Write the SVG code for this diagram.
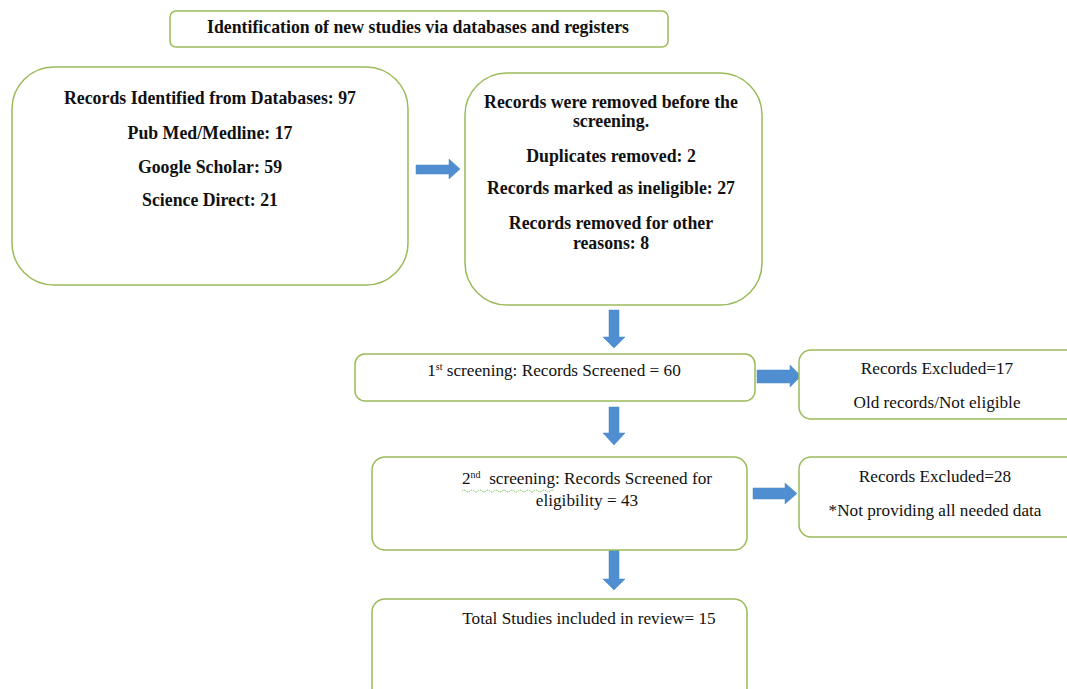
<svg xmlns="http://www.w3.org/2000/svg" width="1067" height="689" viewBox="0 0 1067 689">
<style>
.box{fill:#ffffff;stroke:#9bbb59;stroke-width:1.5}
.arrow{fill:#4f8fd1;stroke:#4a84c0;stroke-width:0.5}
.b{font-family:"Liberation Serif","Times New Roman",serif;font-weight:bold;font-size:17.8px;fill:#111;text-anchor:middle}
.r{font-family:"Liberation Serif","Times New Roman",serif;font-size:17.2px;fill:#111;text-anchor:middle}
.sup{font-size:10px}
</style>
<rect width="1067" height="689" fill="#ffffff"/>
<g id="connectors">
<polygon class="arrow" points="416,165 449,165 449,159 460,169 449,179 449,174 416,174"/>
<polygon class="arrow" points="609,310 619,310 619,337 625,337 614,348 603,337 609,337"/>
<polygon class="arrow" points="757,370 790,370 790,365 801,376 790,387 790,383 757,383"/>
<polygon class="arrow" points="609,407 619,407 619,433 625,433 614,445 603,433 609,433"/>
<polygon class="arrow" points="753,488 785,488 785,483 797,493.5 785,504 785,499 753,499"/>
<polygon class="arrow" points="609,550 619,550 619,579 625,579 614,590 603,579 609,579"/>
</g>
<g id="title">
<rect class="box" x="170" y="11" width="498" height="36" rx="6"/>
<text class="b" x="418" y="33">Identification of new studies via databases and registers</text>
</g>
<g id="identified">
<rect class="box" x="12" y="67" width="396" height="218" rx="42"/>
<text class="b" x="210" y="104">Records Identified from Databases: 97</text>
<text class="b" x="210" y="139">Pub Med/Medline: 17</text>
<text class="b" x="210" y="173">Google Scholar: 59</text>
<text class="b" x="210" y="206">Science Direct: 21</text>
</g>
<g id="removed">
<rect class="box" x="465" y="73" width="297" height="232" rx="42"/>
<text class="b" x="611" y="108">Records were removed before the</text>
<text class="b" x="611" y="127">screening.</text>
<text class="b" x="611" y="162">Duplicates removed: 2</text>
<text class="b" x="611" y="194">Records marked as ineligible: 27</text>
<text class="b" x="611" y="229">Records removed for other</text>
<text class="b" x="611" y="249">reasons: 8</text>
</g>
<g id="screening1">
<rect class="box" x="355" y="354" width="400" height="47" rx="10"/>
<text class="r" x="554" y="376">1<tspan class="sup" dy="-6">st</tspan><tspan dy="6"> screening: Records Screened = 60</tspan></text>
</g>
<g id="excluded1">
<rect class="box" x="799" y="350" width="280" height="69" rx="12"/>
<text class="r" x="937" y="374">Records Excluded=17</text>
<text class="r" x="937" y="408">Old records/Not eligible</text>
</g>
<g id="screening2">
<rect class="box" x="372" y="457" width="375" height="93" rx="13"/>
<text class="r" x="587" y="484">2<tspan class="sup" dy="-6">nd</tspan><tspan dy="6">&#160; screening: Records Screened for</tspan></text>
<text class="r" x="587" y="506">eligibility = 43</text>
<path d="M462,491 q2,-2 4,0 t4,0 t4,0 t4,0 t4,0 t4,0 t4,0 t4,0 t4,0 t4,0 t4,0 t4,0 t4,0 t4,0 t4,0 t4,0 t4,0 t4,0 t4,0 t4,0 t4,0 t4,0 t4,0" fill="none" stroke="#6fbf4a" stroke-width="1" stroke-dasharray="1.5,1"/>
</g>
<g id="excluded2">
<rect class="box" x="799" y="457" width="280" height="80" rx="12"/>
<text class="r" x="935" y="482">Records Excluded=28</text>
<text class="r" x="935" y="516">*Not providing all needed data</text>
</g>
<g id="included">
<rect class="box" x="372" y="599" width="375" height="110" rx="13"/>
<text class="r" x="589" y="624">Total Studies included in review= 15</text>
</g>
</svg>
